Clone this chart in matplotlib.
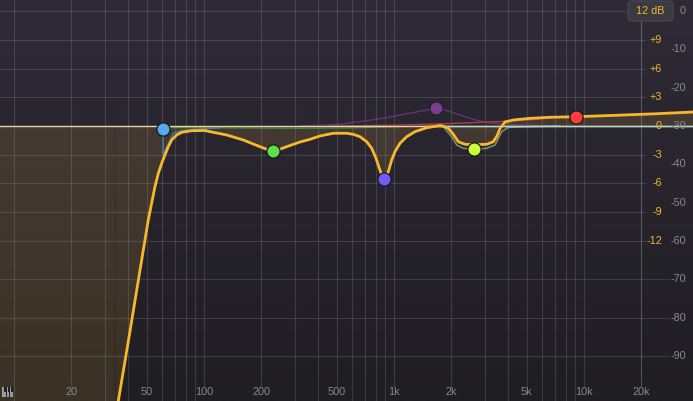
import numpy as np
import matplotlib.pyplot as plt
from matplotlib.patches import FancyBboxPatch, Rectangle
import matplotlib.transforms as mtransforms

# summed EQ response (Hz, dB)
curve_hz = [34.0, 35.4, 40.8, 46.0, 48.9, 50.9, 53.0, 55.2, 57.5, 59.9, 62.3,
            64.9, 67.6, 71.8, 76.3, 86.1, 101.2, 107.5, 131.7, 161.0, 197.1,
            231.6, 272.4, 320.1, 361.3, 407.9, 479.3, 563.8, 610.7, 662.3, 718.5,
            763.3, 804.1, 836.9, 861.6, 889, 921.9, 944.7, 972.5, 1012, 1075,
            1166, 1290, 1370, 1486, 1747, 1855, 1931, 2052, 2180, 2364, 2637,
            3075, 3331, 3485, 3613, 3839, 4245, 5197, 6623, 9155, 14861, 24130, 37470]
curve_db = [-30.2, -28.7, -21.4, -15.1, -11.9, -9.81, -8.07, -6.33, -4.94, -3.89, -3.03,
            -2.16, -1.46, -0.94, -0.66, -0.49, -0.47, -0.59, -0.94, -1.46, -2.16,
            -2.68, -2.16, -1.67, -1.39, -1.04, -0.76, -0.76, -0.87, -1.12, -1.64,
            -2.33, -3.37, -4.41, -5.11, -5.55, -5.11, -4.41, -3.55, -2.68, -1.81,
            -1.12, -0.59, -0.42, -0.18, 0.05, -0.07, -0.24, -0.87, -1.64, -1.91, -1.95,
            -1.91, -1.64, -1.04, -0.26, 0.42, 0.63, 0.80, 0.91, 0.97, 1.12, 1.28, 1.46]

# single band curves (thin lines)
purple_hz = [320, 520, 718, 900, 1075, 1300, 1486, 1664, 1895, 2225, 2615, 3075, 3920, 7476]
purple_db = [0.0, 0.18, 0.55, 0.85, 1.15, 1.45, 1.67, 1.85, 1.60, 1.15, 0.70, 0.34, 0.18, 0.0]
red_hz = [460, 1000, 1971, 3613, 5197, 6623]
red_db = [0.0, 0.08, 0.26, 0.47, 0.63, 0.85]
lime_hz = [1747, 1818, 2013, 2138, 2316, 2637, 3075, 3401, 3688, 3996, 5197, 7476]
lime_db = [0.0, -0.07, -1.12, -1.98, -2.33, -2.40, -2.33, -1.98, -0.59, -0.14, -0.07, 0.0]
green_hz = [60.8, 320, 587, 1214, 1747]
green_db = [-0.16, -0.24, -0.2, -0.05, 0.0]
blue_hz = [61.0, 61.0, 61.8, 68.9, 76.3, 89.7, 120]
blue_db = [-0.3, -3.0, -2.73, -0.76, -0.49, -0.34, -0.2]

# band handles
node_hz = [60.8, 230.7, 885, 1664, 2637, 9083]
node_db = [-0.3, -2.6, -5.5, 1.88, -2.4, 0.94]
node_colors = ['#56a8f0', '#5ee04b', '#6f5cff', '#87409c', '#c9ff34', '#ff3d3d']

freq_ticks = [20, 50, 100, 200, 500, 1000, 2000, 5000, 10000, 20000]
freq_labels = ['20', '50', '100', '200', '500', '1k', '2k', '5k', '10k', '20k']
eq_ticks = [9, 6, 3, 0, -3, -6, -9, -12]
eq_labels = ['+9', '+6', '+3', '0', '-3', '-6', '-9', '-12']
ana_ticks = [0, -10, -20, -30, -40, -50, -60, -70, -80, -90]

fmin, fmax = 8.44, 37470
dbmin, dbmax = -28.70, 13.15

fig = plt.figure(figsize=(6.93, 4.01), dpi=100)
ax = fig.add_axes([0, 0, 1, 1])
ax.set_xscale('log')
ax.set_xlim(fmin, fmax)
ax.set_ylim(dbmin, dbmax)
ax.axis('off')

# background gradient
top = np.array([47, 42, 55]) / 255
bot = np.array([31, 30, 34]) / 255
t = np.linspace(0, 1, 256)[:, None]
grad = top[None, :] * (1 - t) + bot[None, :] * t
ax.imshow(grad[:, None, :], extent=[0, 1, 0, 1], transform=ax.transAxes,
          aspect='auto', zorder=0, interpolation='bilinear')

# grid
gcol = (1, 1, 1, 0.13)
vlines = [10 * m * 10 ** d for d in range(4) for m in range(1, 10)]
vlines = [v for v in vlines if v <= 20000] + [20000]
for v in vlines:
    ymin = 0.037 if v in freq_ticks else 0
    ax.axvline(v, ymin=ymin, color=gcol, lw=0.8, zorder=1)
for y in [9, 6, 3, -3, -6, -9, -12]:
    ax.axhline(y, xmax=0.931, color=gcol, lw=0.8, zorder=1)
ax.axhline(12, xmax=0.903, color=gcol, lw=0.8, zorder=1)
for a in [-70, -80, -90]:
    ax.axhline((a + 30) * 0.4, xmax=0.964, color=gcol, lw=0.8, zorder=1)

# fill between response and 0 dB (left of the cut everything is below the floor)
fill = dict(color='#f5b942', alpha=0.13, lw=0, zorder=2)
ax.fill_between(curve_hz, curve_db, 0, **fill)
ax.fill_between([fmin, curve_hz[0]], dbmin - 5, 0, **fill)

# single band curves
ax.plot(green_hz, green_db, color='#3f8f3a', lw=0.9, zorder=3)
ax.plot(blue_hz, blue_db, color='#3f86b0', lw=0.9, zorder=3)
ax.plot(purple_hz, purple_db, color='#7a3a8e', lw=1.0, alpha=0.7, zorder=3)
ax.plot(red_hz, red_db, color='#a8404a', lw=1.0, zorder=3)
ax.plot(lime_hz, lime_db, color='#7f8a6c', lw=1.2, zorder=3)

# 0 dB line
ax.axhline(0, color='#e8d2a6', lw=1.0, zorder=3.5)
ax.hlines(0, 1500, fmax, color='#b4d8cc', lw=1.0, zorder=3.6)

# summed curve
ax.plot(curve_hz, curve_db, color='#f7b82d', lw=2.0, solid_joinstyle='round',
        solid_capstyle='round', zorder=4)

# handles
for f, g, c in zip(node_hz, node_db, node_colors):
    a = 0.85 if c == '#87409c' else 1.0
    ax.plot(f, g, 'o', ms=9.5, mfc=c, mec='#1a1a1e', mew=0.9, alpha=a, zorder=5)

# labels
txt = dict(family='Liberation Sans', fontsize=7.8)
bl = mtransforms.blended_transform_factory(ax.transData, ax.transAxes)
for f, lab in zip(freq_ticks, freq_labels):
    ax.text(f, 0.022, lab, transform=bl, color='#8a8a8c', ha='center', va='center',
            zorder=6, **txt)
br = mtransforms.blended_transform_factory(ax.transAxes, ax.transData)
for y, lab in zip(eq_ticks, eq_labels):
    ax.text(0.955, y, lab, transform=br, color='#f2b530', ha='right', va='center',
            zorder=6, **txt)
for a in ana_ticks:
    ax.text(0.990, (a + 30) * 0.4, str(a), transform=br, color='#8a8a8c', ha='right',
            va='center', zorder=6, **txt)

# "12 dB" range box
W, H = 693, 401
box = FancyBboxPatch((628 / W, 1 - 21 / H), 45 / W, 20 / H,
                     boxstyle='round,pad=0,rounding_size=0.008',
                     transform=fig.transFigure, fc='#3b3941', ec='#4a4851', lw=0.8,
                     zorder=7)
fig.add_artist(box)
fig.text(650.5 / W, 1 - 11 / H, '12 dB', color='#f2b530', ha='center', va='center',
         zorder=8, **txt)

# piano icon
fig.add_artist(Rectangle((2 / W, 4 / H), 11 / W, 10 / H, transform=fig.transFigure,
                         fc='#9c9ca0', ec='none', zorder=8))
for px in [5.5, 9.0]:
    fig.add_artist(Rectangle((px / W, 4 / H), 1 / W, 10 / H, transform=fig.transFigure,
                             fc='#202024', ec='none', zorder=9))
for px in [4.3, 7.8, 11.3]:
    fig.add_artist(Rectangle((px / W, 9 / H), 1.4 / W, 5 / H, transform=fig.transFigure,
                             fc='#202024', ec='none', zorder=9))

fig.savefig('out.png', dpi=100, facecolor='#1f1e22')
